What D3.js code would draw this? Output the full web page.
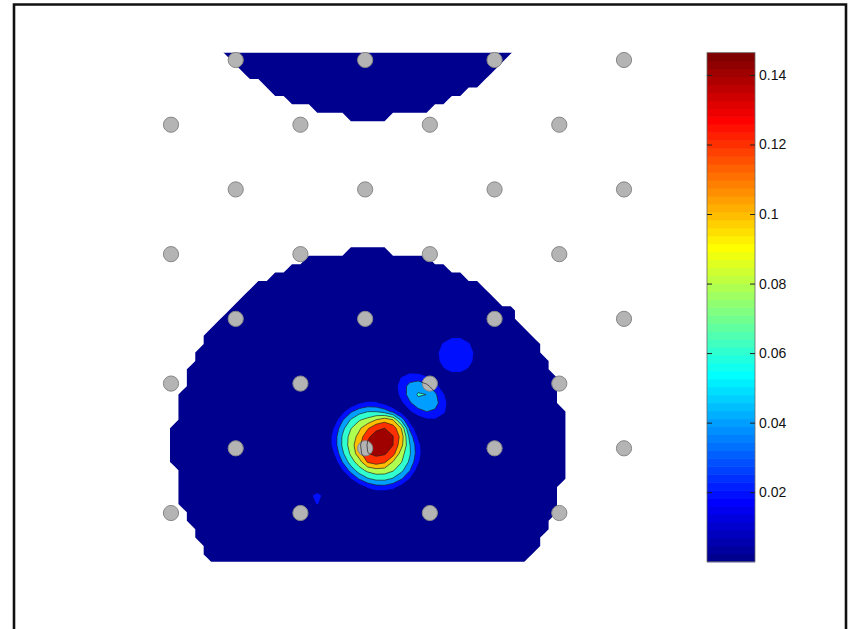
<!DOCTYPE html>
<html><head><meta charset="utf-8">
<script src="https://cdn.jsdelivr.net/npm/d3@7"></script>
<style>html,body{margin:0;padding:0;background:#fff;} svg{display:block;}</style>
</head><body><svg id="c" width="853" height="629"></svg>
<script>
// ---------------- data ----------------
// sensor positions (grid units)
const sensorX = [1,3,5,7, 0,2,4,6, 1,3,5,7, 0,2,4,6, 1,3,5,7, 0,2,4,6, 1,3,5,7, 0,2,4,6];
const sensorY = [0,0,0,0, 1,1,1,1, 2,2,2,2, 3,3,3,3, 4,4,4,4, 5,5,5,5, 6,6,6,6, 7,7,7,7];
// activity sources (grid units): main (broad + core), second, third, fourth
const srcX      = [3.168, 3.230, 3.879, 4.404, 2.256];
const srcY      = [5.965, 5.919, 5.193, 4.559, 6.769];
const srcAmp    = [0.125, 0.146, 0.065, 0.030, 0.0225];
const srcRadMaj = [0.788, 0.55, 0.556, 0.48, 0.30];
const srcRadMin = [0.69, 0.44, 0.37, 0.48, 0.30];
const srcAngle  = [-45, 55, -40, 0, 0];
const srcPow    = [2, 4, 1.5, 2, 2];
// interpolation support (circular regions, grid units)
const maskCX = [3.066, 3.066];
const maskCY = [5.97, -2.0];
const maskR  = [3.03, 2.9];
// contour levels and colour limits
const contourLevels = [0.02, 0.04, 0.06, 0.08, 0.10, 0.12, 0.14];
const colorLimits = [0, 0.1464];
const colorbarTicks = [0.02, 0.04, 0.06, 0.08, 0.1, 0.12, 0.14];
const colorbarTickLabels = ["0.02", "0.04", "0.06", "0.08", "0.1", "0.12", "0.14"];
const xLimits = [-0.6, 7.6];
const yLimits = [-0.113, 7.755];

// ---------------- colormap (MATLAB jet, 64) ----------------
function jet64() {
  const n = 64, m = 16, u = [];
  for (let i = 1; i <= m; i++) u.push(i / m);
  for (let i = 0; i < m - 1; i++) u.push(1);
  for (let i = m; i >= 1; i--) u.push(i / m);
  const J = Array.from({length: n}, () => [0, 0, 0]);
  const g0 = 8;
  for (let k = 0; k < u.length; k++) {
    const gi = g0 + k, ri = gi + m, bi = gi - m;
    if (gi < n) J[gi][1] = u[k];
    if (ri < n) J[ri][0] = u[k];
    if (bi >= 0 && bi < n) J[bi][2] = u[k];
  }
  return J.map(c => d3.rgb(c[0] * 255, c[1] * 255, c[2] * 255).formatHex());
}
const cmap = jet64();
function colorOf(v) {
  let i = Math.floor((v - colorLimits[0]) / (colorLimits[1] - colorLimits[0]) * 64);
  return cmap[Math.max(0, Math.min(63, i))];
}

// ---------------- scales ----------------
const svg = d3.select("#c");
const xScale = d3.scaleLinear().domain([0, 7]).range([171, 624]);
const yScale = d3.scaleLinear().domain([0, 7]).range([60, 513]);

// frame
svg.append("path")
  .attr("d", d3.line()([[14, 629], [14, 4.5], [846, 4.5], [846, 629]]))
  .attr("fill", "none").attr("stroke", "#111").attr("stroke-width", 2.6);

const defs = svg.append("defs");
defs.append("clipPath").attr("id", "ax").append("rect")
  .attr("x", xScale(xLimits[0])).attr("y", yScale(yLimits[0]))
  .attr("width", xScale(xLimits[1]) - xScale(xLimits[0]))
  .attr("height", yScale(yLimits[1]) - yScale(yLimits[0]));

// ---------------- field on grid ----------------
const h = 0.13, gx0 = -0.6, gy0 = -1.2;
const nx = Math.ceil((7.4 - gx0) / h) + 1, ny = Math.ceil((8.4 - gy0) / h) + 1;
function field(x, y) {
  let inside = false;
  for (let k = 0; k < maskCX.length; k++) {
    if ((x - maskCX[k]) ** 2 + (y - maskCY[k]) ** 2 <= maskR[k] ** 2) inside = true;
  }
  if (!inside) return -1;
  let s = 0;
  for (let k = 0; k < srcX.length; k++) {
    const a = srcAngle[k] * Math.PI / 180;
    const dx = x - srcX[k], dy = y - srcY[k];
    const u = dx * Math.cos(a) - dy * Math.sin(a);
    const v = dx * Math.sin(a) + dy * Math.cos(a);
    const q = Math.sqrt((u / srcRadMaj[k]) ** 2 + (v / srcRadMin[k]) ** 2);
    s = Math.max(s, srcAmp[k] * Math.max(0, 1 - Math.pow(q, srcPow[k])));
  }
  return s;
}
const values = new Array(nx * ny);
for (let j = 0; j < ny; j++) for (let i = 0; i < nx; i++) {
  values[j * nx + i] = field(gx0 + i * h, gy0 + j * h);
}
const thresholds = [-0.5].concat(contourLevels);
const contours = d3.contours().size([nx, ny]).thresholds(thresholds)(values);
const proj = d3.geoTransform({
  point: function(x, y) {
    this.stream.point(xScale(gx0 + (x - 0.5) * h), yScale(gy0 + (y - 0.5) * h));
  }
});
const path = d3.geoPath(proj);

const plot = svg.append("g").attr("clip-path", "url(#ax)");
plot.selectAll("path.fill").data(contours).join("path")
  .attr("class", "fill")
  .attr("d", path)
  .attr("fill", d => colorOf(Math.max(d.value, colorLimits[0])))
  .attr("stroke", "none");

// sensors
svg.append("g").selectAll("circle").data(sensorX.map((x, i) => [x, sensorY[i]])).join("circle")
  .attr("cx", d => xScale(d[0])).attr("cy", d => yScale(d[1])).attr("r", 7.6)
  .attr("fill", "#b4b4b4").attr("stroke", "#878787").attr("stroke-width", 1);

// contour lines over sensors
svg.append("g").attr("clip-path", "url(#ax)")
  .selectAll("path").data(contours.filter(d => d.value > 0.03)).join("path")
  .attr("d", path).attr("fill", "none")
  .attr("stroke", "#202020").attr("stroke-opacity", 0.75).attr("stroke-width", 0.9);

// ---------------- colorbar ----------------
const cbX0 = 707, cbX1 = 755;
const cScale = d3.scaleLinear().domain(colorLimits).range([561.7, 52.7]);
const bandIdx = d3.range(64);
const bandH = (colorLimits[1] - colorLimits[0]) / 64;
svg.append("g").selectAll("rect").data(bandIdx).join("rect")
  .attr("x", cbX0).attr("width", cbX1 - cbX0)
  .attr("y", i => cScale(colorLimits[0] + (i + 1) * bandH))
  .attr("height", i => cScale(colorLimits[0] + i * bandH) - cScale(colorLimits[0] + (i + 1) * bandH) + 0.6)
  .attr("fill", i => cmap[i]);
svg.append("rect").attr("x", cbX0).attr("y", cScale(colorLimits[1]))
  .attr("width", cbX1 - cbX0).attr("height", cScale(colorLimits[0]) - cScale(colorLimits[1]))
  .attr("fill", "none").attr("stroke", "#6a6a6a").attr("stroke-width", 0.8);

const axR = d3.axisRight(cScale).tickValues(colorbarTicks)
  .tickFormat((d, i) => colorbarTickLabels[i]).tickSizeInner(-5).tickSizeOuter(0).tickPadding(4);
const gR = svg.append("g").attr("transform", `translate(${cbX1},0)`).call(axR);
gR.select(".domain").remove();
gR.selectAll("line").attr("stroke", "#222");
gR.selectAll("text").attr("font-family", "'Liberation Sans', Arial, Helvetica, sans-serif")
  .attr("font-size", 14).attr("fill", "#111");

const axL = d3.axisLeft(cScale).tickValues(colorbarTicks).tickFormat("").tickSizeInner(-5).tickSizeOuter(0);
const gL = svg.append("g").attr("transform", `translate(${cbX0},0)`).call(axL);
gL.select(".domain").remove();
gL.selectAll("line").attr("stroke", "#222");
</script>
</body></html>
